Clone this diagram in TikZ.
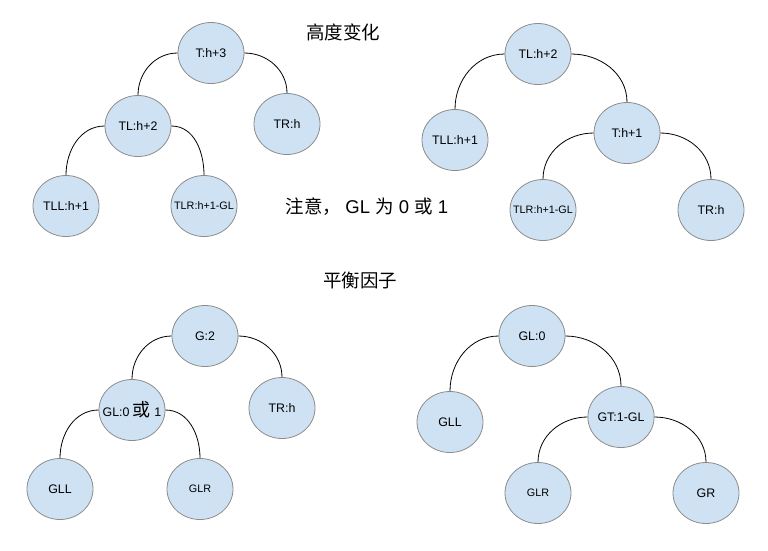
\documentclass[tikz,border=0pt]{standalone}
\usepackage{fontspec}
\setmainfont{Liberation Sans}
\newfontfamily\cjk{Noto Sans CJK SC}
\usepackage{tikz}
\usetikzlibrary{shapes.geometric}
\usepackage{xcolor}
\definecolor{nodefill}{HTML}{CFE2F3}
\definecolor{nodeline}{HTML}{8C8C8C}

\begin{document}
\begin{tikzpicture}[x=1pt,y=1pt,
  tnode/.style={ellipse,fill=nodefill,draw=nodeline,line width=0.8pt,minimum width=66pt,minimum height=61pt,inner sep=0pt,font=\fontsize{12.4}{14}\selectfont},
  smalltext/.style={font=\fontsize{10.8}{13}\selectfont},
  widetext/.style={inner xsep=-9pt},
  title/.style={font=\cjk\fontsize{18.5}{22}\selectfont},
  edge/.style={line width=0.8pt}]
  \useasboundingbox (0,0) rectangle (768,-550);
  \node[title] (height) at (343,-32) {高度变化};
  \node[title] (note) at (367,-207) {注意，\ \fontspec{Liberation Sans}GL\ {\cjk 为}\ 0\ {\cjk 或}\ 1};
  \node[title] (balance) at (360,-280) {平衡因子};
  \node[tnode] (t1) at (211,-53) {T:h+3};
  \node[tnode] (tl1) at (138,-126) {TL:h+2};
  \node[tnode] (tr1) at (287,-124) {TR:h};
  \node[tnode] (tll1) at (66,-206) {TLL:h+1};
  \node[tnode,smalltext,widetext] (tlr1) at (204,-206) {TLR:h+1-GL};
  \draw[edge] (t1.west) to[out=180,in=90] (tl1.north);
  \draw[edge] (t1.east) to[out=0,in=90] (tr1.north);
  \draw[edge] (tl1.west) to[out=180,in=90] (tll1.north);
  \draw[edge] (tl1.east) to[out=0,in=90] (tlr1.north);
  \node[tnode] (tl2) at (538,-54) {TL:h+2};
  \node[tnode] (tll2) at (455,-140) {TLL:h+1};
  \node[tnode] (t2) at (627,-133) {T:h+1};
  \node[tnode,smalltext,widetext] (tlr2) at (543,-210) {TLR:h+1-GL};
  \node[tnode] (tr2) at (711,-210) {TR:h};
  \draw[edge] (tl2.west) to[out=180,in=90] (tll2.north);
  \draw[edge] (tl2.east) to[out=0,in=90] (t2.north);
  \draw[edge] (t2.west) to[out=180,in=90] (tlr2.north);
  \draw[edge] (t2.east) to[out=0,in=90] (tr2.north);
  \node[tnode] (g3) at (205,-336) {G:2};
  \node[tnode,widetext] (gl3) at (132,-410) {GL:0 {\cjk\fontsize{18}{20}\selectfont 或} 1};
  \node[tnode] (tr3) at (282,-408) {TR:h};
  \node[tnode] (gll3) at (60,-489) {GLL};
  \node[tnode,smalltext] (glr3) at (200,-489) {GLR};
  \draw[edge] (g3.west) to[out=180,in=90] (gl3.north);
  \draw[edge] (g3.east) to[out=0,in=90] (tr3.north);
  \draw[edge] (gl3.west) to[out=180,in=90] (gll3.north);
  \draw[edge] (gl3.east) to[out=0,in=90] (glr3.north);
  \node[tnode] (gl4) at (532,-336) {GL:0};
  \node[tnode] (gll4) at (450,-422) {GLL};
  \node[tnode] (gt4) at (621,-417) {GT:1-GL};
  \node[tnode,smalltext] (glr4) at (538,-493) {GLR};
  \node[tnode] (gr4) at (706,-493) {GR};
  \draw[edge] (gl4.west) to[out=180,in=90] (gll4.north);
  \draw[edge] (gl4.east) to[out=0,in=90] (gt4.north);
  \draw[edge] (gt4.west) to[out=180,in=90] (glr4.north);
  \draw[edge] (gt4.east) to[out=0,in=90] (gr4.north);
\end{tikzpicture}
\end{document}
